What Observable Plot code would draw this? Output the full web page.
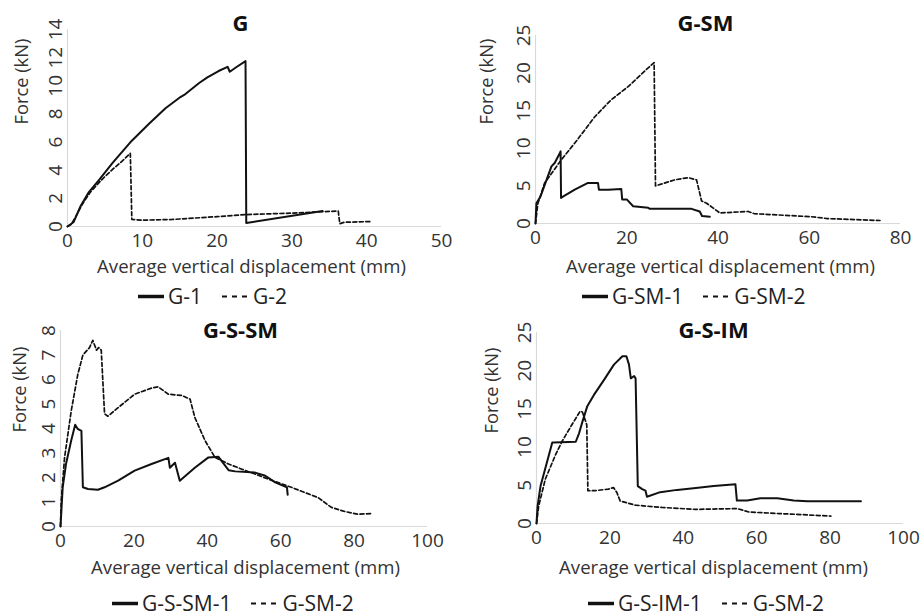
<!DOCTYPE html>
<html>
<head>
<meta charset="utf-8">
<script src="https://cdn.jsdelivr.net/npm/d3@7"></script>
<script src="https://cdn.jsdelivr.net/npm/@observablehq/plot@0.6"></script>
<style>
  html, body { margin: 0; padding: 0; background: #fff; }
  #root { position: relative; width: 921px; height: 615px; overflow: hidden; font-family: 'Open Sans', sans-serif; }
  .panel { position: absolute; }
  .legend { position: absolute; display: flex; align-items: center; font-size: 21px; color: #222; white-space: nowrap; line-height: 1; }
  .legend svg { display: block; }
</style>
</head>
<body>
<div id="root"></div>
<script>
// ---------- data ----------
const xTicksG = [0, 10, 20, 30, 40, 50];
const yTicksG = [0, 2, 4, 6, 8, 10, 12, 14];
const xTicksGSM = [0, 20, 40, 60, 80];
const yTicksGSM = [0, 5, 10, 15, 20, 25];
const xTicksGSSM = [0, 20, 40, 60, 80, 100];
const yTicksGSSM = [0, 1, 2, 3, 4, 5, 6, 7, 8];
const xTicksGSIM = [0, 20, 40, 60, 80, 100];
const yTicksGSIM = [0, 5, 10, 15, 20, 25];

const titles = ["G", "G-SM", "G-S-SM", "G-S-IM"];
const legendNames = [["G-1", "G-2"], ["G-SM-1", "G-SM-2"], ["G-S-SM-1", "G-SM-2"], ["G-S-IM-1", "G-SM-2"]];
const xTitle = "Average vertical displacement (mm)";
const yTitle = "Force (kN)";

const g1 = [[0,0],[0.8,0.3],[1.7,1.4],[2.8,2.4],[4.2,3.3],[6,4.5],[8.6,6.1],[10.9,7.3],[13.1,8.4],[15.1,9.2],[15.6,9.35],[17.6,10.2],[18.7,10.6],[20.2,11.05],[21.4,11.35],[21.7,11.0],[22.5,11.3],[23.8,11.75],[23.9,0.25],[34.1,1.1]];
const g2 = [[0,0],[0.5,0.15],[1,0.6],[2,1.6],[3,2.4],[4,3.0],[5,3.55],[6,4.05],[7,4.5],[8,5.0],[8.4,5.2],[8.6,0.5],[10,0.45],[14,0.5],[20,0.7],[24,0.85],[30,0.95],[34,1.05],[36.2,1.1],[36.4,0.2],[37,0.3],[40.5,0.35]];

const gsm1 = [[0,0],[0.2,2.7],[1.1,3.6],[3.5,7.6],[4.2,8.05],[5.3,9.3],[5.5,9.6],[5.6,3.4],[6.1,3.6],[8.6,4.5],[11.5,5.4],[13.7,5.4],[13.9,4.5],[15.9,4.5],[18.8,4.6],[19,3.2],[20,3.2],[21.4,2.3],[24.7,2.1],[25,1.95],[34.2,1.95],[36,1.6],[36.5,1.0],[38.2,0.9]];
const gsm2 = [[0,0],[0.5,2.6],[2,5.4],[5.7,8.5],[9,11],[13,14.2],[16.5,16.4],[20.3,18.2],[24.7,20.7],[26,21.4],[26.3,5.0],[30.5,5.8],[33.5,6.1],[35.3,5.8],[36.4,3.0],[37.5,2.7],[39.3,1.9],[40.4,1.4],[46.6,1.6],[48,1.3],[60.5,0.9],[64,0.65],[75.5,0.4]];

const gssm1 = [[0,0],[0.6,1.6],[1.5,2.55],[2.9,3.5],[4.0,4.15],[4.7,3.98],[5.7,3.9],[6.1,1.6],[7.5,1.53],[10.2,1.5],[12,1.6],[15.7,1.87],[20.2,2.28],[24.8,2.55],[29.4,2.8],[29.8,2.4],[31.2,2.6],[32.5,1.87],[36.6,2.4],[40.3,2.82],[43,2.85],[45.8,2.3],[47.6,2.25],[53,2.2],[55.8,2.07],[58.5,1.8],[61.7,1.6],[61.9,1.3]];
const gssm2 = [[0,0],[0.2,1.05],[1.1,2.8],[2.9,4.7],[4.7,6.2],[6.1,7.0],[7.9,7.3],[8.8,7.6],[9.8,7.2],[10.4,7.3],[11.1,7.2],[12,4.6],[12.9,4.5],[15.7,4.85],[20.2,5.4],[24.8,5.65],[26.6,5.7],[29.4,5.4],[33,5.35],[35.3,5.2],[36.6,4.45],[39.4,3.5],[42.1,2.82],[45.8,2.55],[49.4,2.34],[53,2.14],[56.7,1.93],[62.9,1.6],[66.5,1.39],[70.2,1.18],[73.8,0.78],[77.5,0.61],[81.1,0.5],[85,0.53]];

const gsim1 = [[0,0],[0.3,2.3],[1.1,4.9],[4.3,10.6],[4.7,10.6],[10.7,10.7],[11.6,11.8],[12.5,13.3],[13.8,15.3],[15.6,16.8],[18.4,18.8],[21.1,20.8],[23.4,21.9],[24.5,21.9],[25.2,20.8],[25.7,19.0],[26.6,19.3],[27,19],[27.6,4.9],[28.8,4.5],[29.7,4.3],[30.1,3.5],[33.7,4.1],[38.3,4.4],[42.8,4.6],[48.3,4.9],[54.2,5.15],[54.6,3.0],[57.4,3.0],[61,3.3],[65.6,3.3],[70.1,3.0],[73.8,2.9],[88.4,2.9]];
const gsim2 = [[0,0],[0.6,2.3],[2.4,5.8],[5.1,8.9],[6.9,10.7],[9.6,12.9],[11.9,14.7],[12.5,14.6],[13.3,13.5],[13.7,12.9],[14,4.3],[16,4.3],[19.6,4.5],[21,4.7],[21.9,4.05],[22.8,2.95],[26.9,2.4],[34.2,2.1],[43.3,1.85],[54.7,1.95],[57.9,1.5],[66.1,1.3],[70.6,1.2],[80.2,0.97]];

// ---------- layout ----------
const FONT = "'Open Sans', sans-serif";
const panels = [
  {title: titles[0], names: legendNames[0], s1: g1, s2: g2, xd: [0,50], xt: xTicksG, yd: [0,14], yt: yTicksG,
   left: 0, top: 0, w: 460, h: 282, mL: 67, mR: 19, mT: 29, mB: 56,
   titleX: 240, titleY: 23, xTitleX: 251, xTitleY: 267, yTitleX: 22, yTitleY: 124, legX: 138, legY: 296},
  {title: titles[1], names: legendNames[1], s1: gsm1, s2: gsm2, xd: [0,80], xt: xTicksGSM, yd: [0,25], yt: yTicksGSM,
   left: 460, top: 0, w: 461, h: 282, mL: 75, mR: 21, mT: 35, mB: 59,
   titleX: 705, titleY: 23, xTitleX: 720, xTitleY: 267, yTitleX: 487, yTitleY: 124, legX: 582, legY: 296},
  {title: titles[2], names: legendNames[2], s1: gssm1, s2: gssm2, xd: [0,100], xt: xTicksGSSM, yd: [0,8], yt: yTicksGSSM,
   left: 0, top: 300, w: 460, h: 285, mL: 60, mR: 33, mT: 30, mB: 59,
   titleX: 240, titleY: 330, xTitleX: 245, xTitleY: 568, yTitleX: 20, yTitleY: 432, legX: 112, legY: 603},
  {title: titles[3], names: legendNames[3], s1: gsim1, s2: gsim2, xd: [0,100], xt: xTicksGSIM, yd: [0,25], yt: yTicksGSIM,
   left: 460, top: 300, w: 461, h: 285, mL: 76, mR: 18, mT: 32, mB: 62,
   titleX: 713, titleY: 330, xTitleX: 713, xTitleY: 568, yTitleX: 492, yTitleY: 433, legX: 588, legY: 603}
];

const root = document.getElementById("root");
const toObj = arr => arr.map(([x, y]) => ({x, y}));

for (const p of panels) {
  const frameTop = p.mT, frameBottom = p.h - p.mB;
  const frameCx = (p.mL + (p.w - p.mR)) / 2;
  const frameCy = (frameTop + frameBottom) / 2;
  const chart = Plot.plot({
    width: p.w, height: p.h,
    marginLeft: p.mL, marginRight: p.mR, marginTop: p.mT, marginBottom: p.mB,
    style: {fontFamily: FONT, background: "transparent", overflow: "visible"},
    x: {domain: p.xd, label: null},
    y: {domain: p.yd, label: null},
    marks: [
      Plot.ruleY([0], {stroke: "#d9d9d9", strokeWidth: 1.2}),
      Plot.ruleX([0], {stroke: "#d9d9d9", strokeWidth: 1.2}),
      Plot.axisX({ticks: p.xt, tickSize: 0, tickPadding: 7, fontSize: 19, fill: "#333", label: null, tickFormat: d => String(d)}),
      Plot.axisY({ticks: p.yt, tickSize: 0, tickPadding: 6, tickRotate: -90, fontSize: 19, fill: "#333", label: null, tickFormat: d => String(d)}),
      Plot.line(toObj(p.s2), {x: "x", y: "y", stroke: "#111", strokeWidth: 1.7, strokeDasharray: "4,2.5"}),
      Plot.line(toObj(p.s1), {x: "x", y: "y", stroke: "#111", strokeWidth: 2}),
      Plot.text([p.title], {frameAnchor: "top", lineAnchor: "middle", text: d => d,
        dx: (p.titleX - p.left) - frameCx, dy: (p.titleY - p.top) - frameTop,
        fontSize: 22, fontWeight: "bold", fill: "#111"}),
      Plot.text([xTitle], {frameAnchor: "bottom", lineAnchor: "middle", text: d => d,
        dx: (p.xTitleX - p.left) - frameCx, dy: (p.xTitleY - p.top) - frameBottom,
        fontSize: 18.6, fill: "#333"}),
      Plot.text([yTitle], {frameAnchor: "left", lineAnchor: "middle", text: d => d, rotate: -90,
        dx: (p.yTitleX - p.left) - p.mL, dy: (p.yTitleY - p.top) - frameCy,
        fontSize: 18.3, fill: "#333"})
    ]
  });
  const div = document.createElement("div");
  div.className = "panel";
  div.style.left = p.left + "px";
  div.style.top = p.top + "px";
  div.appendChild(chart);
  root.appendChild(div);

  // legend (below the chart)
  const leg = document.createElement("div");
  leg.className = "legend";
  leg.style.left = p.legX + "px";
  leg.style.top = (p.legY - 12) + "px";
  leg.style.height = "24px";
  const swatch = (dashed) => {
    const w = dashed ? 30 : 26;
    const s = d3.create("svg").attr("width", w).attr("height", 24);
    s.append("line").attr("x1", 0).attr("x2", w).attr("y1", 12.5).attr("y2", 12.5)
      .attr("stroke", "#111").attr("stroke-width", dashed ? 2 : 3.5)
      .attr("stroke-dasharray", dashed ? "5,5" : null);
    return s.node();
  };
  const t1 = document.createElement("span"); t1.textContent = p.names[0]; t1.style.margin = "0 20px 0 4px";
  const t2 = document.createElement("span"); t2.textContent = p.names[1]; t2.style.marginLeft = "1px";
  leg.appendChild(swatch(false)); leg.appendChild(t1); leg.appendChild(swatch(true)); leg.appendChild(t2);
  root.appendChild(leg);
}
</script>
</body>
</html>
